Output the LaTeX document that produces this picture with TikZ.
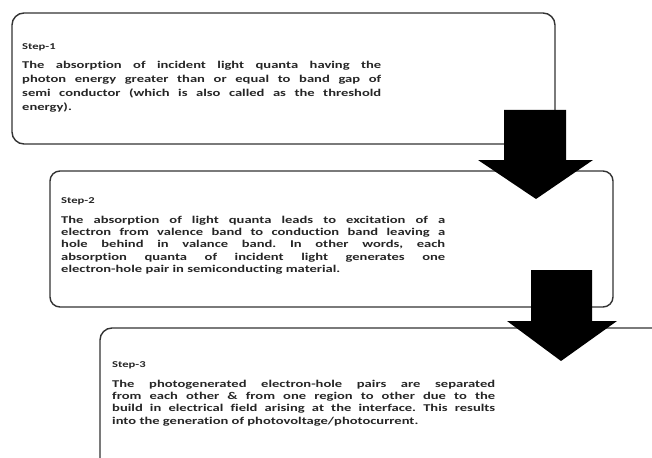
\documentclass[tikz,border=0pt]{standalone}
\usepackage{fontspec}
\setmainfont[FakeStretch=1.4,Ligatures=NoCommon]{Carlito}
\frenchspacing
\begin{document}
\begin{tikzpicture}[x=1pt,y=-1pt,
  stepbox/.style={draw=black!80,line width=1.4pt,fill=white,rounded corners=12pt},
  bigarrow/.style={fill=black,draw=none},
  steplabel/.style={anchor=base west,inner sep=0pt,font=\fontsize{9}{11}\selectfont\bfseries,text=black!85},
  steptext/.style={anchor=base west,inner sep=0pt,align=justify,text=black!85}]
\fill[white] (0,0) rectangle (652,457);
\useasboundingbox (0,0) rectangle (652,457);
\clip (0,0) rectangle (652,457);
% box 1
\draw[stepbox] (12,13) rectangle (555,144);
\node[steplabel] (l1) at (22,50) {Step-1};
\node[steptext,text width=359pt,font=\fontsize{10.4}{14}\selectfont\bfseries] (t1) at (22,69)
 {The absorption of incident light quanta having the\linebreak
  photon energy greater than or equal to band gap of\linebreak
  semi conductor (which is also called as the threshold\linebreak
  energy).};
% box 2
\draw[stepbox,rounded corners=10pt] (50,171) rectangle (613,307);
\node[steplabel] (l2) at (61,203) {Step-2};
\node[steptext,text width=384pt,font=\fontsize{10.4}{12.4}\selectfont\bfseries] (t2) at (61,223)
 {The absorption of light quanta leads to excitation of a\linebreak
  electron from valence band to conduction band leaving a\linebreak
  hole behind in valance band. In other words, each\linebreak
  absorption quanta of incident light generates one\linebreak
  electron-hole pair in semiconducting material.};
% arrow 1
\fill[bigarrow] (504,110) -- (566,110) -- (566,160) -- (593,160) -- (536,199) -- (478,160) -- (504,160) -- cycle;
% box 3
\draw[stepbox] (100,328) rectangle (720,520);
\node[steplabel] (l3) at (112,367) {Step-3};
\node[steptext,text width=383pt,font=\fontsize{10.4}{12.4}\selectfont\bfseries] (t3) at (112,387)
 {The photogenerated electron-hole pairs are separated\linebreak
  from each other \& from one region to other due to the\linebreak
  build in electrical field arising at the interface. This results\linebreak
  into the generation of photovoltage/photocurrent.};
% arrow 2
\fill[bigarrow] (531,270) -- (592,270) -- (592,321) -- (617,321) -- (561,361) -- (507,321) -- (531,321) -- cycle;
\end{tikzpicture}
\end{document}
